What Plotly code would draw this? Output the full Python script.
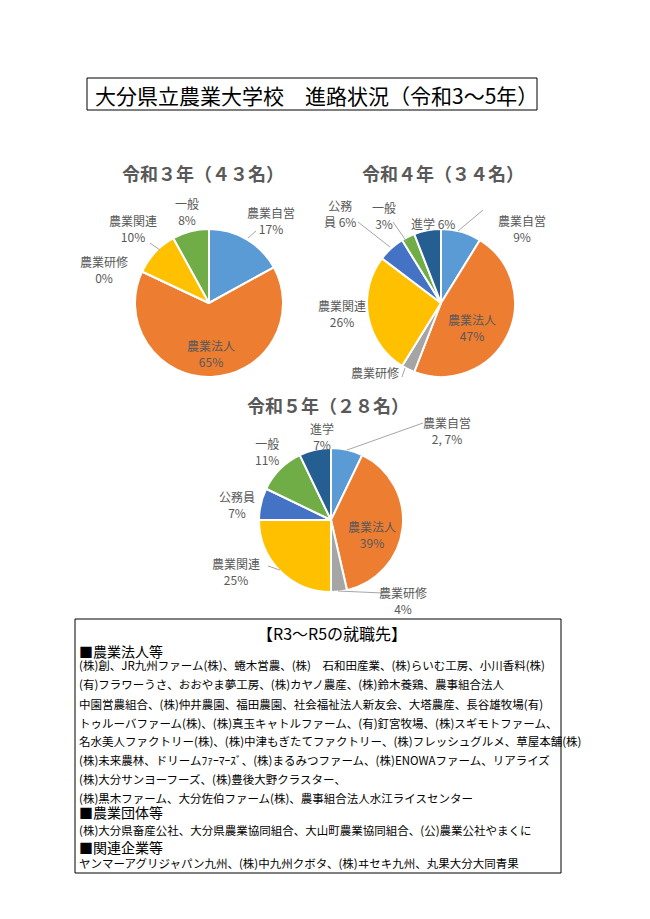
import plotly.graph_objects as go

W, H = 650, 919
OFF = 8  # browser body margin
FONT = "Noto Sans CJK JP"
GRAY = "#595959"

# ---- data ----
cats = ["農業自営", "農業法人", "農業研修", "農業関連", "公務員", "一般", "進学"]
colors = ["#5B9BD5", "#ED7D31", "#A5A5A5", "#FFC000", "#4472C4", "#70AD47", "#255E91"]

r3_title = "令和３年（４３名）"
r3_cats = ["農業自営", "農業法人", "農業研修", "農業関連", "一般"]
r3_vals = [17, 65, 0, 10, 8]
r3_labels = ["農業自営<br>17%", "農業法人<br>65%", "農業研修<br>0%", "農業関連<br>10%", "一般<br>8%"]

r4_title = "令和４年（３４名）"
r4_cats = ["農業自営", "農業法人", "農業研修", "農業関連", "公務員", "一般", "進学"]
r4_vals = [3, 16, 1, 9, 2, 1, 2]
r4_labels = ["農業自営<br>9%", "農業法人<br>47%", "農業研修", "農業関連<br>26%", "公務<br>員 6%", "一般<br>3%", "進学 6%"]

r5_title = "令和５年（２８名）"
r5_cats = ["農業自営", "農業法人", "農業研修", "農業関連", "公務員", "一般", "進学"]
r5_vals = [2, 11, 1, 7, 2, 3, 2]
r5_labels = ["農業自営<br>2, 7%", "農業法人<br>39%", "農業研修<br>4%", "農業関連<br>25%", "公務員<br>7%", "一般<br>11%", "進学<br>7%"]

main_title = "大分県立農業大学校　進路状況（令和3～5年）"
box_header = "【R3～R5の就職先】"
box_lines = [
    ("h", "■農業法人等"),
    ("t", "(株)創、JR九州ファーム(株)、蜷木営農、(株)　石和田産業、(株)らいむ工房、小川香料(株)"),
    ("t", "(有)フラワーうさ、おおやま夢工房、(株)カヤノ農産、(株)鈴木養鶏、農事組合法人"),
    ("t", "中園営農組合、(株)仲井農園、福田農園、社会福祉法人新友会、大塔農産、長谷雄牧場(有)"),
    ("t", "トゥルーバファーム(株)、(株)真玉キャトルファーム、(有)釘宮牧場、(株)スギモトファーム、"),
    ("t", "名水美人ファクトリー(株)、(株)中津もぎたてファクトリー、(株)フレッシュグルメ、草屋本舗(株)"),
    ("t", "(株)未来農林、ドリームﾌｧｰﾏｰｽﾞ、(株)まるみつファーム、(株)ENOWAファーム、リアライズ"),
    ("t", "(株)大分サンヨーフーズ、(株)豊後大野クラスター、"),
    ("t", "(株)黒木ファーム、大分佐伯ファーム(株)、農事組合法人水江ライスセンター"),
    ("h", "■農業団体等"),
    ("t", "(株)大分県畜産公社、大分県農業協同組合、大山町農業協同組合、(公)農業公社やまくに"),
    ("h", "■関連企業等"),
    ("t", "ヤンマーアグリジャパン九州、(株)中九州クボタ、(株)ヰセキ九州、丸果大分大同青果"),
]


def px(x):
    return (x - OFF) / W


def py(y):
    return 1 - (y - OFF) / H


def col_for(cs):
    return [colors[cats.index(c)] for c in cs]


fig = go.Figure()

pies = [
    (r3_cats, r3_vals, (135, 283, 229, 377)),
    (r4_cats, r4_vals, (367, 515, 229, 377)),
    (r5_cats, r5_vals, (259, 403, 448, 592)),
]
for cs, vs, (x0, x1, y0, y1) in pies:
    fig.add_trace(go.Pie(
        labels=cs, values=vs, sort=False, direction="clockwise", rotation=0,
        marker=dict(colors=col_for(cs), line=dict(color="white", width=2)),
        textinfo="none", hoverinfo="label+percent", showlegend=False,
        domain=dict(x=[px(x0), px(x1)], y=[py(y1), py(y0)]),
    ))

ann = []


def add_text(x, y, text, size=12, color=GRAY, bold=False, xanchor="center"):
    if bold:
        text = "<b>" + text + "</b>"
    ann.append(dict(x=px(x), y=py(y), xref="paper", yref="paper", text=text,
                    showarrow=False, xanchor=xanchor, yanchor="middle",
                    font=dict(family=FONT, size=size, color=color)))


# pie titles
add_text(203, 173, r3_title, size=18, bold=True)
add_text(443, 173, r4_title, size=18, bold=True)
add_text(328, 405, r5_title, size=18, bold=True)

# pie labels (label centre positions)
r3_pos = [(271, 220), (211, 353), (104, 269), (133, 228), (187, 212)]
r4_pos = [(522, 228), (472, 327), (375, 373), (342, 313), (340, 214), (384, 215), (433, 223)]
r5_pos = [(447, 430), (372, 534), (403, 600), (236, 571), (237, 505), (267, 451), (322, 436)]
for labels, pos in [(r3_labels, r3_pos), (r4_labels, r4_pos), (r5_labels, r5_pos)]:
    for t, (x, y) in zip(labels, pos):
        add_text(x, y, t, size=12)

# main title
add_text(316, 95, main_title, size=21, color="black")

# box text
add_text(332, 633, box_header, size=16, color="black")
line_y = [651, 665, 684, 704, 723, 741, 760, 779, 798, 812, 830, 847, 863]
for (kind, t), y in zip(box_lines, line_y):
    add_text(77, y, t, size=14 if kind == "h" else 11.5, color="black", xanchor="left")

shapes = [
    dict(type="rect", xref="paper", yref="paper", x0=px(87), x1=px(537), y0=py(110), y1=py(78),
         line=dict(color="black", width=1)),
    dict(type="rect", xref="paper", yref="paper", x0=px(75), x1=px(561), y0=py(873), y1=py(619),
         line=dict(color="black", width=1)),
]
# leader lines
leaders = [
    [(248, 238), (256, 231)],
    [(160, 250), (150, 243)],
    [(458, 231), (483, 210)],
    [(358, 222), (390, 247)],
    [(393, 222), (407, 242)],
    [(402, 377), (405, 368)],
    [(347, 450), (423, 423)],
    [(268, 566), (280, 570)],
    [(338, 591), (383, 593)],
]
for (xa, ya), (xb, yb) in leaders:
    shapes.append(dict(type="line", xref="paper", yref="paper", x0=px(xa), y0=py(ya),
                       x1=px(xb), y1=py(yb), line=dict(color="#A6A6A6", width=1)))

fig.update_layout(
    width=W, height=H, margin=dict(l=0, r=0, t=0, b=0),
    paper_bgcolor="white", plot_bgcolor="white",
    annotations=ann, shapes=shapes,
)
fig.write_html("out.html")
